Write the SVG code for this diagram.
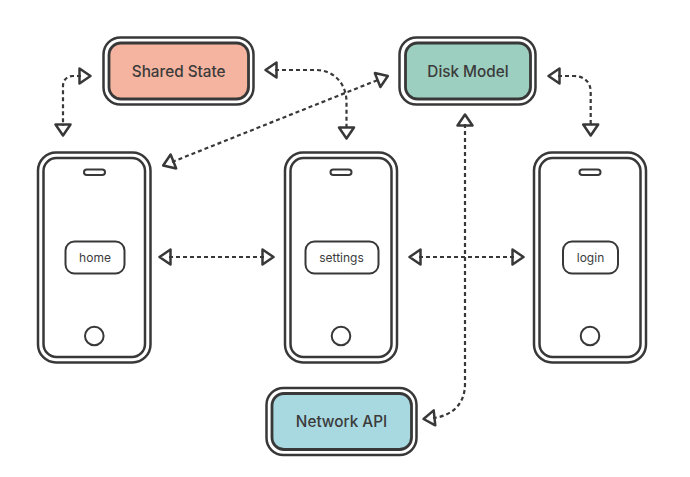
<svg xmlns="http://www.w3.org/2000/svg" width="690" height="477" viewBox="0 0 690 477">
<style>
.o{fill:#fff;stroke:#383838;stroke-width:2.500}
.i{stroke:#383838;stroke-width:2.800}
.s{fill:#fff;stroke:#383838;stroke-width:2}
.c{fill:none;stroke:#383838;stroke-width:2.200;stroke-dasharray:4 3}
.t{font-family:Inter,"Noto Sans",sans-serif;fill:#3b3b3b;text-anchor:middle}
.n{font-size:15.300px;font-weight:500}
.l{font-size:12px}
</style>
<defs>
<marker id="a" viewBox="-1 -9 14 18" refX="1.500" refY="0" markerWidth="14" markerHeight="18" markerUnits="userSpaceOnUse" orient="auto-start-reverse" overflow="visible">
<path d="M0 -7.500L11 0L0 7.500Z" fill="none" stroke="#383838" stroke-width="2.500" stroke-linejoin="round"/>
</marker>
</defs>
<g id="connectors">
<path class="c" marker-start="url(#a)" marker-end="url(#a)" d="M81 76H73C67 76 63 80 63 86V126"/>
<path class="c" marker-start="url(#a)" marker-end="url(#a)" d="M275 70H316C334 70 346.500 84 346.500 102V129"/>
<path class="c" marker-start="url(#a)" marker-end="url(#a)" d="M172 162L379 79.500"/>
<path class="c" marker-start="url(#a)" marker-end="url(#a)" d="M558 76H574C584 76 590.700 82 590.700 92V126"/>
<path class="c" marker-start="url(#a)" marker-end="url(#a)" d="M169 257H264"/>
<path class="c" marker-start="url(#a)" marker-end="url(#a)" d="M419 257H514"/>
<path class="c" marker-start="url(#a)" marker-end="url(#a)" d="M465 124V384C465 404 452 416 433 418"/>
</g>
<g id="shared-state">
<rect class="o" x="103.500" y="37.500" width="150" height="67" rx="17"/>
<rect class="i" fill="#f5b49f" x="109" y="43" width="139.500" height="56" rx="12"/>
<text class="t n" x="178.700" y="76.500">Shared State</text>
</g>
<g id="disk-model">
<rect class="o" x="399.500" y="37.500" width="136" height="67" rx="17"/>
<rect class="i" fill="#9dcfc0" x="405.500" y="43" width="125" height="56" rx="12"/>
<text class="t n" x="468" y="76.500">Disk Model</text>
</g>
<g id="network-api">
<rect class="o" x="266.500" y="388" width="150" height="67" rx="17"/>
<rect class="i" fill="#a8d9e0" x="272" y="393.500" width="139.500" height="56" rx="12"/>
<text class="t n" x="341.500" y="427">Network API</text>
</g>
<g id="home">
<rect class="o" x="38" y="152.500" width="112.500" height="210" rx="18"/>
<rect class="o" x="43.500" y="158" width="101.500" height="199" rx="13"/>
<rect class="s" x="84" y="169.500" width="21" height="5.500" rx="2.750"/>
<circle class="s" cx="94.300" cy="336" r="9.300"/>
<rect class="s" x="65.500" y="241.500" width="59" height="32" rx="9"/>
<text class="t l" x="95" y="261.500">home</text>
</g>
<g id="settings">
<rect class="o" x="285" y="152.500" width="112" height="210" rx="18"/>
<rect class="o" x="290.500" y="158" width="101" height="199" rx="13"/>
<rect class="s" x="330.500" y="169.500" width="21" height="5.500" rx="2.750"/>
<circle class="s" cx="341" cy="336" r="9.300"/>
<rect class="s" x="305.500" y="241.500" width="73" height="32" rx="9"/>
<text class="t l" x="341.500" y="261.500">settings</text>
</g>
<g id="login">
<rect class="o" x="534" y="152.500" width="112" height="210" rx="18"/>
<rect class="o" x="539.500" y="158" width="101" height="199" rx="13"/>
<rect class="s" x="579.500" y="169.500" width="21" height="5.500" rx="2.750"/>
<circle class="s" cx="590" cy="336" r="9.300"/>
<rect class="s" x="563" y="241.500" width="55" height="32" rx="9"/>
<text class="t l" x="590.500" y="261.500">login</text>
</g>
</svg>
